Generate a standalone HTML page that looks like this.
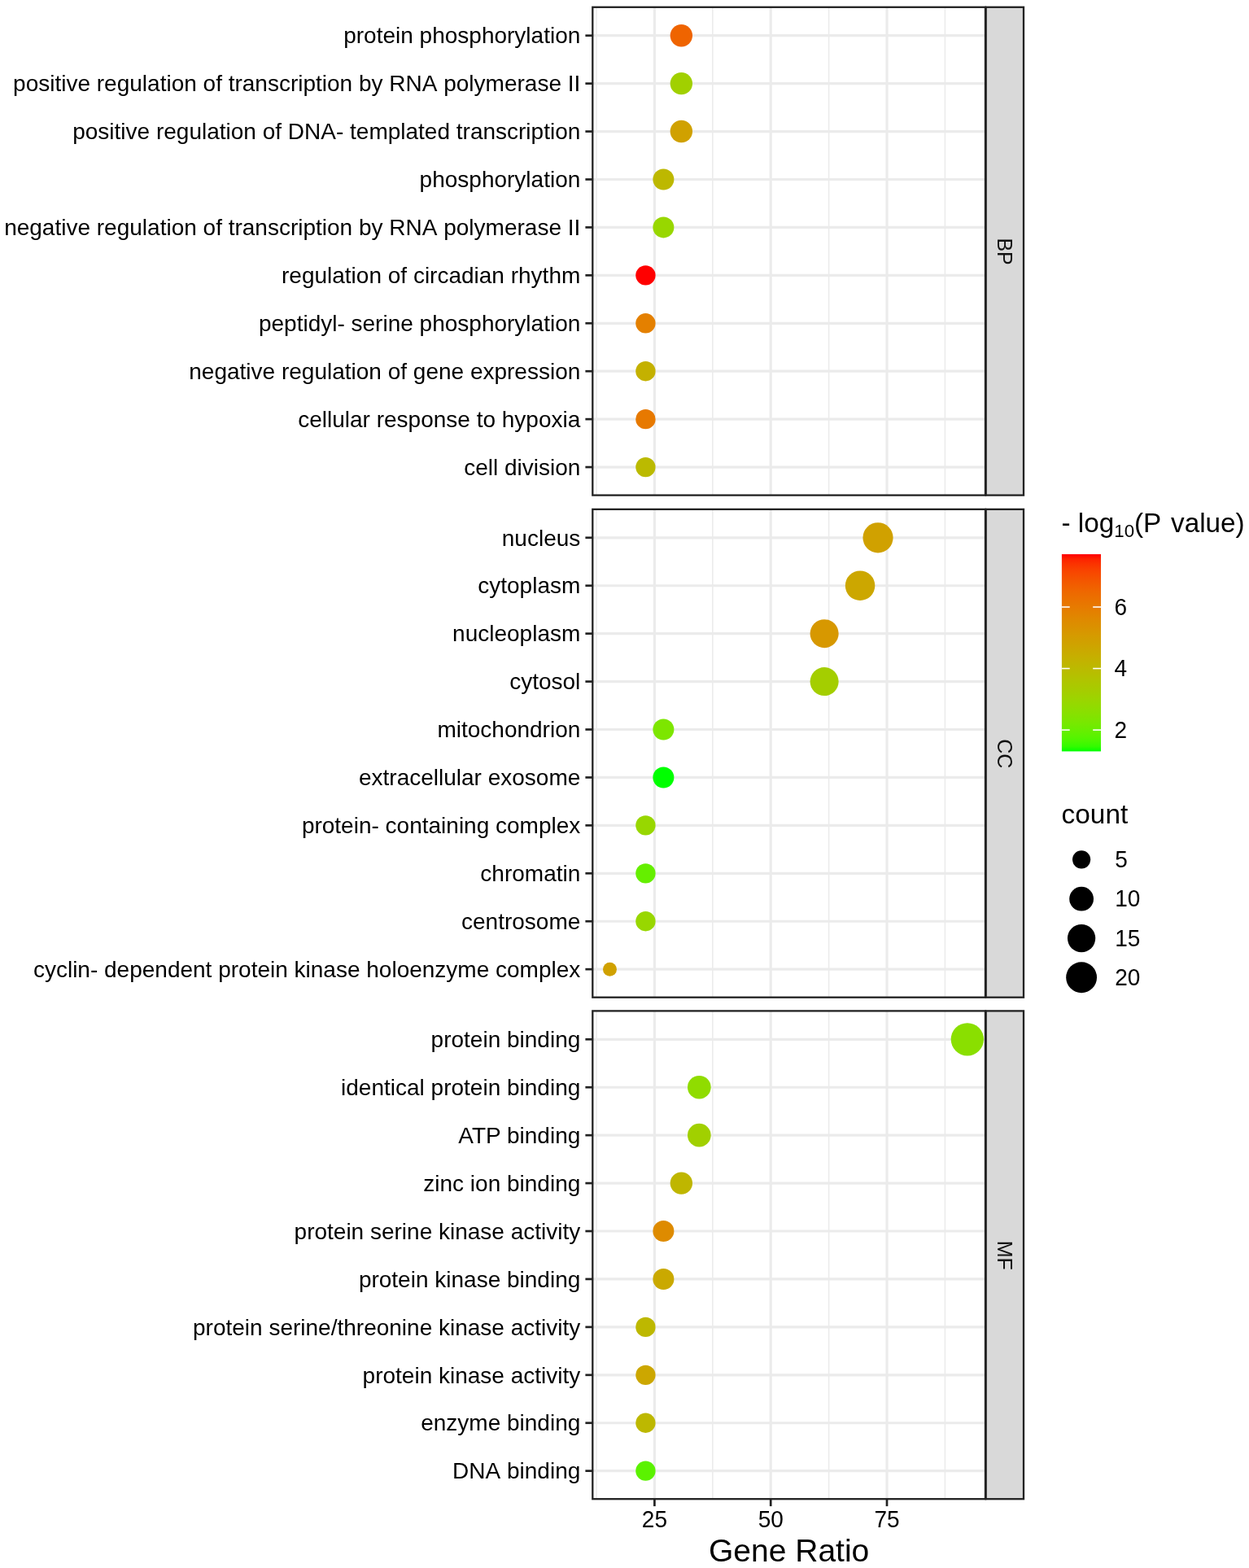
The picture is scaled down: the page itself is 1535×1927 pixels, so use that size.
<!DOCTYPE html>
<html><head><meta charset="utf-8"><title>GO enrichment dot plot</title>
<style>html,body{margin:0;padding:0;background:#fff;}svg{display:block;font-family:"Liberation Sans",Arial,sans-serif;font-kerning:none;}</style>
</head><body>
<svg width="1535" height="1927" viewBox="0 0 1535 1927">
<rect width="1535" height="1927" fill="#FFFFFF"/>
<line x1="733.00" y1="8.80" x2="733.00" y2="608.60" stroke="#EBEBEB" stroke-width="1.6"/>
<line x1="875.80" y1="8.80" x2="875.80" y2="608.60" stroke="#EBEBEB" stroke-width="1.6"/>
<line x1="1018.60" y1="8.80" x2="1018.60" y2="608.60" stroke="#EBEBEB" stroke-width="1.6"/>
<line x1="1161.40" y1="8.80" x2="1161.40" y2="608.60" stroke="#EBEBEB" stroke-width="1.6"/>
<line x1="728.30" y1="43.70" x2="1211.00" y2="43.70" stroke="#EBEBEB" stroke-width="3.2"/>
<line x1="728.30" y1="102.63" x2="1211.00" y2="102.63" stroke="#EBEBEB" stroke-width="3.2"/>
<line x1="728.30" y1="161.56" x2="1211.00" y2="161.56" stroke="#EBEBEB" stroke-width="3.2"/>
<line x1="728.30" y1="220.49" x2="1211.00" y2="220.49" stroke="#EBEBEB" stroke-width="3.2"/>
<line x1="728.30" y1="279.42" x2="1211.00" y2="279.42" stroke="#EBEBEB" stroke-width="3.2"/>
<line x1="728.30" y1="338.35" x2="1211.00" y2="338.35" stroke="#EBEBEB" stroke-width="3.2"/>
<line x1="728.30" y1="397.28" x2="1211.00" y2="397.28" stroke="#EBEBEB" stroke-width="3.2"/>
<line x1="728.30" y1="456.21" x2="1211.00" y2="456.21" stroke="#EBEBEB" stroke-width="3.2"/>
<line x1="728.30" y1="515.14" x2="1211.00" y2="515.14" stroke="#EBEBEB" stroke-width="3.2"/>
<line x1="728.30" y1="574.07" x2="1211.00" y2="574.07" stroke="#EBEBEB" stroke-width="3.2"/>
<line x1="804.40" y1="8.80" x2="804.40" y2="608.60" stroke="#EBEBEB" stroke-width="3.2"/>
<line x1="947.20" y1="8.80" x2="947.20" y2="608.60" stroke="#EBEBEB" stroke-width="3.2"/>
<line x1="1090.00" y1="8.80" x2="1090.00" y2="608.60" stroke="#EBEBEB" stroke-width="3.2"/>
<circle cx="837.35" cy="43.70" r="13.70" fill="#EF6400"/>
<circle cx="837.35" cy="102.63" r="13.70" fill="#A1D000"/>
<circle cx="837.35" cy="161.56" r="13.70" fill="#D0A100"/>
<circle cx="815.38" cy="220.49" r="13.00" fill="#BDB800"/>
<circle cx="815.38" cy="279.42" r="13.00" fill="#98D700"/>
<circle cx="793.42" cy="338.35" r="12.17" fill="#FF0000"/>
<circle cx="793.42" cy="397.28" r="12.17" fill="#E48000"/>
<circle cx="793.42" cy="456.21" r="12.17" fill="#C4B100"/>
<circle cx="793.42" cy="515.14" r="12.17" fill="#E77900"/>
<circle cx="793.42" cy="574.07" r="12.17" fill="#BBBA00"/>
<rect x="728.30" y="8.80" width="482.70" height="599.80" fill="none" stroke="#222222" stroke-width="2.3"/>
<rect x="1211.70" y="8.80" width="46.30" height="599.80" fill="#D9D9D9" stroke="#222222" stroke-width="2.3"/>
<text transform="translate(1226.4 309.10) rotate(90)" text-anchor="middle" font-size="25" fill="#111">BP</text>
<line x1="719.40" y1="43.70" x2="728.30" y2="43.70" stroke="#222222" stroke-width="2.7"/>
<text x="713.3" y="53.40" text-anchor="end" font-size="28" fill="#000">protein phosphorylation</text>
<line x1="719.40" y1="102.63" x2="728.30" y2="102.63" stroke="#222222" stroke-width="2.7"/>
<text x="713.3" y="112.33" text-anchor="end" font-size="28" fill="#000">positive regulation of transcription by RNA polymerase II</text>
<line x1="719.40" y1="161.56" x2="728.30" y2="161.56" stroke="#222222" stroke-width="2.7"/>
<text x="713.3" y="171.26" text-anchor="end" font-size="28" fill="#000">positive regulation of DNA- templated transcription</text>
<line x1="719.40" y1="220.49" x2="728.30" y2="220.49" stroke="#222222" stroke-width="2.7"/>
<text x="713.3" y="230.19" text-anchor="end" font-size="28" fill="#000">phosphorylation</text>
<line x1="719.40" y1="279.42" x2="728.30" y2="279.42" stroke="#222222" stroke-width="2.7"/>
<text x="713.3" y="289.12" text-anchor="end" font-size="28" fill="#000">negative regulation of transcription by RNA polymerase II</text>
<line x1="719.40" y1="338.35" x2="728.30" y2="338.35" stroke="#222222" stroke-width="2.7"/>
<text x="713.3" y="348.05" text-anchor="end" font-size="28" fill="#000">regulation of circadian rhythm</text>
<line x1="719.40" y1="397.28" x2="728.30" y2="397.28" stroke="#222222" stroke-width="2.7"/>
<text x="713.3" y="406.98" text-anchor="end" font-size="28" fill="#000">peptidyl- serine phosphorylation</text>
<line x1="719.40" y1="456.21" x2="728.30" y2="456.21" stroke="#222222" stroke-width="2.7"/>
<text x="713.3" y="465.91" text-anchor="end" font-size="28" fill="#000">negative regulation of gene expression</text>
<line x1="719.40" y1="515.14" x2="728.30" y2="515.14" stroke="#222222" stroke-width="2.7"/>
<text x="713.3" y="524.84" text-anchor="end" font-size="28" fill="#000">cellular response to hypoxia</text>
<line x1="719.40" y1="574.07" x2="728.30" y2="574.07" stroke="#222222" stroke-width="2.7"/>
<text x="713.3" y="583.77" text-anchor="end" font-size="28" fill="#000">cell division</text>
<line x1="733.00" y1="625.90" x2="733.00" y2="1225.70" stroke="#EBEBEB" stroke-width="1.6"/>
<line x1="875.80" y1="625.90" x2="875.80" y2="1225.70" stroke="#EBEBEB" stroke-width="1.6"/>
<line x1="1018.60" y1="625.90" x2="1018.60" y2="1225.70" stroke="#EBEBEB" stroke-width="1.6"/>
<line x1="1161.40" y1="625.90" x2="1161.40" y2="1225.70" stroke="#EBEBEB" stroke-width="1.6"/>
<line x1="728.30" y1="660.80" x2="1211.00" y2="660.80" stroke="#EBEBEB" stroke-width="3.2"/>
<line x1="728.30" y1="719.73" x2="1211.00" y2="719.73" stroke="#EBEBEB" stroke-width="3.2"/>
<line x1="728.30" y1="778.66" x2="1211.00" y2="778.66" stroke="#EBEBEB" stroke-width="3.2"/>
<line x1="728.30" y1="837.59" x2="1211.00" y2="837.59" stroke="#EBEBEB" stroke-width="3.2"/>
<line x1="728.30" y1="896.52" x2="1211.00" y2="896.52" stroke="#EBEBEB" stroke-width="3.2"/>
<line x1="728.30" y1="955.45" x2="1211.00" y2="955.45" stroke="#EBEBEB" stroke-width="3.2"/>
<line x1="728.30" y1="1014.38" x2="1211.00" y2="1014.38" stroke="#EBEBEB" stroke-width="3.2"/>
<line x1="728.30" y1="1073.31" x2="1211.00" y2="1073.31" stroke="#EBEBEB" stroke-width="3.2"/>
<line x1="728.30" y1="1132.24" x2="1211.00" y2="1132.24" stroke="#EBEBEB" stroke-width="3.2"/>
<line x1="728.30" y1="1191.17" x2="1211.00" y2="1191.17" stroke="#EBEBEB" stroke-width="3.2"/>
<line x1="804.40" y1="625.90" x2="804.40" y2="1225.70" stroke="#EBEBEB" stroke-width="3.2"/>
<line x1="947.20" y1="625.90" x2="947.20" y2="1225.70" stroke="#EBEBEB" stroke-width="3.2"/>
<line x1="1090.00" y1="625.90" x2="1090.00" y2="1225.70" stroke="#EBEBEB" stroke-width="3.2"/>
<circle cx="1079.02" cy="660.80" r="18.60" fill="#D0A100"/>
<circle cx="1057.05" cy="719.73" r="18.26" fill="#CCA700"/>
<circle cx="1013.11" cy="778.66" r="17.53" fill="#D79800"/>
<circle cx="1013.11" cy="837.59" r="17.53" fill="#A4CE00"/>
<circle cx="815.38" cy="896.52" r="13.00" fill="#7DE600"/>
<circle cx="815.38" cy="955.45" r="13.00" fill="#00FF00"/>
<circle cx="793.42" cy="1014.38" r="12.17" fill="#98D700"/>
<circle cx="793.42" cy="1073.31" r="12.17" fill="#65EF00"/>
<circle cx="793.42" cy="1132.24" r="12.17" fill="#98D700"/>
<circle cx="749.48" cy="1191.17" r="8.47" fill="#D0A100"/>
<rect x="728.30" y="625.90" width="482.70" height="599.80" fill="none" stroke="#222222" stroke-width="2.3"/>
<rect x="1211.70" y="625.90" width="46.30" height="599.80" fill="#D9D9D9" stroke="#222222" stroke-width="2.3"/>
<text transform="translate(1226.4 926.20) rotate(90)" text-anchor="middle" font-size="25" fill="#111">CC</text>
<line x1="719.40" y1="660.80" x2="728.30" y2="660.80" stroke="#222222" stroke-width="2.7"/>
<text x="713.3" y="670.50" text-anchor="end" font-size="28" fill="#000">nucleus</text>
<line x1="719.40" y1="719.73" x2="728.30" y2="719.73" stroke="#222222" stroke-width="2.7"/>
<text x="713.3" y="729.43" text-anchor="end" font-size="28" fill="#000">cytoplasm</text>
<line x1="719.40" y1="778.66" x2="728.30" y2="778.66" stroke="#222222" stroke-width="2.7"/>
<text x="713.3" y="788.36" text-anchor="end" font-size="28" fill="#000">nucleoplasm</text>
<line x1="719.40" y1="837.59" x2="728.30" y2="837.59" stroke="#222222" stroke-width="2.7"/>
<text x="713.3" y="847.29" text-anchor="end" font-size="28" fill="#000">cytosol</text>
<line x1="719.40" y1="896.52" x2="728.30" y2="896.52" stroke="#222222" stroke-width="2.7"/>
<text x="713.3" y="906.22" text-anchor="end" font-size="28" fill="#000">mitochondrion</text>
<line x1="719.40" y1="955.45" x2="728.30" y2="955.45" stroke="#222222" stroke-width="2.7"/>
<text x="713.3" y="965.15" text-anchor="end" font-size="28" fill="#000">extracellular exosome</text>
<line x1="719.40" y1="1014.38" x2="728.30" y2="1014.38" stroke="#222222" stroke-width="2.7"/>
<text x="713.3" y="1024.08" text-anchor="end" font-size="28" fill="#000">protein- containing complex</text>
<line x1="719.40" y1="1073.31" x2="728.30" y2="1073.31" stroke="#222222" stroke-width="2.7"/>
<text x="713.3" y="1083.01" text-anchor="end" font-size="28" fill="#000">chromatin</text>
<line x1="719.40" y1="1132.24" x2="728.30" y2="1132.24" stroke="#222222" stroke-width="2.7"/>
<text x="713.3" y="1141.94" text-anchor="end" font-size="28" fill="#000">centrosome</text>
<line x1="719.40" y1="1191.17" x2="728.30" y2="1191.17" stroke="#222222" stroke-width="2.7"/>
<text x="713.3" y="1200.87" text-anchor="end" font-size="28" fill="#000">cyclin- dependent protein kinase holoenzyme complex</text>
<line x1="733.00" y1="1242.40" x2="733.00" y2="1842.20" stroke="#EBEBEB" stroke-width="1.6"/>
<line x1="875.80" y1="1242.40" x2="875.80" y2="1842.20" stroke="#EBEBEB" stroke-width="1.6"/>
<line x1="1018.60" y1="1242.40" x2="1018.60" y2="1842.20" stroke="#EBEBEB" stroke-width="1.6"/>
<line x1="1161.40" y1="1242.40" x2="1161.40" y2="1842.20" stroke="#EBEBEB" stroke-width="1.6"/>
<line x1="728.30" y1="1277.30" x2="1211.00" y2="1277.30" stroke="#EBEBEB" stroke-width="3.2"/>
<line x1="728.30" y1="1336.23" x2="1211.00" y2="1336.23" stroke="#EBEBEB" stroke-width="3.2"/>
<line x1="728.30" y1="1395.16" x2="1211.00" y2="1395.16" stroke="#EBEBEB" stroke-width="3.2"/>
<line x1="728.30" y1="1454.09" x2="1211.00" y2="1454.09" stroke="#EBEBEB" stroke-width="3.2"/>
<line x1="728.30" y1="1513.02" x2="1211.00" y2="1513.02" stroke="#EBEBEB" stroke-width="3.2"/>
<line x1="728.30" y1="1571.95" x2="1211.00" y2="1571.95" stroke="#EBEBEB" stroke-width="3.2"/>
<line x1="728.30" y1="1630.88" x2="1211.00" y2="1630.88" stroke="#EBEBEB" stroke-width="3.2"/>
<line x1="728.30" y1="1689.81" x2="1211.00" y2="1689.81" stroke="#EBEBEB" stroke-width="3.2"/>
<line x1="728.30" y1="1748.74" x2="1211.00" y2="1748.74" stroke="#EBEBEB" stroke-width="3.2"/>
<line x1="728.30" y1="1807.67" x2="1211.00" y2="1807.67" stroke="#EBEBEB" stroke-width="3.2"/>
<line x1="804.40" y1="1242.40" x2="804.40" y2="1842.20" stroke="#EBEBEB" stroke-width="3.2"/>
<line x1="947.20" y1="1242.40" x2="947.20" y2="1842.20" stroke="#EBEBEB" stroke-width="3.2"/>
<line x1="1090.00" y1="1242.40" x2="1090.00" y2="1842.20" stroke="#EBEBEB" stroke-width="3.2"/>
<circle cx="1188.86" cy="1277.30" r="20.17" fill="#8ADF00"/>
<circle cx="859.32" cy="1336.23" r="14.32" fill="#90DC00"/>
<circle cx="859.32" cy="1395.16" r="14.32" fill="#A1D000"/>
<circle cx="837.35" cy="1454.09" r="13.70" fill="#BFB600"/>
<circle cx="815.38" cy="1513.02" r="13.00" fill="#DE8B00"/>
<circle cx="815.38" cy="1571.95" r="13.00" fill="#CAA900"/>
<circle cx="793.42" cy="1630.88" r="12.17" fill="#BDB800"/>
<circle cx="793.42" cy="1689.81" r="12.17" fill="#CCA700"/>
<circle cx="793.42" cy="1748.74" r="12.17" fill="#BDB800"/>
<circle cx="793.42" cy="1807.67" r="12.17" fill="#5BF200"/>
<rect x="728.30" y="1242.40" width="482.70" height="599.80" fill="none" stroke="#222222" stroke-width="2.3"/>
<rect x="1211.70" y="1242.40" width="46.30" height="599.80" fill="#D9D9D9" stroke="#222222" stroke-width="2.3"/>
<text transform="translate(1226.4 1542.70) rotate(90)" text-anchor="middle" font-size="25" fill="#111">MF</text>
<line x1="719.40" y1="1277.30" x2="728.30" y2="1277.30" stroke="#222222" stroke-width="2.7"/>
<text x="713.3" y="1287.00" text-anchor="end" font-size="28" fill="#000">protein binding</text>
<line x1="719.40" y1="1336.23" x2="728.30" y2="1336.23" stroke="#222222" stroke-width="2.7"/>
<text x="713.3" y="1345.93" text-anchor="end" font-size="28" fill="#000">identical protein binding</text>
<line x1="719.40" y1="1395.16" x2="728.30" y2="1395.16" stroke="#222222" stroke-width="2.7"/>
<text x="713.3" y="1404.86" text-anchor="end" font-size="28" fill="#000" style="font-kerning:normal">ATP binding</text>
<line x1="719.40" y1="1454.09" x2="728.30" y2="1454.09" stroke="#222222" stroke-width="2.7"/>
<text x="713.3" y="1463.79" text-anchor="end" font-size="28" fill="#000">zinc ion binding</text>
<line x1="719.40" y1="1513.02" x2="728.30" y2="1513.02" stroke="#222222" stroke-width="2.7"/>
<text x="713.3" y="1522.72" text-anchor="end" font-size="28" fill="#000">protein serine kinase activity</text>
<line x1="719.40" y1="1571.95" x2="728.30" y2="1571.95" stroke="#222222" stroke-width="2.7"/>
<text x="713.3" y="1581.65" text-anchor="end" font-size="28" fill="#000">protein kinase binding</text>
<line x1="719.40" y1="1630.88" x2="728.30" y2="1630.88" stroke="#222222" stroke-width="2.7"/>
<text x="713.3" y="1640.58" text-anchor="end" font-size="28" fill="#000">protein serine/threonine kinase activity</text>
<line x1="719.40" y1="1689.81" x2="728.30" y2="1689.81" stroke="#222222" stroke-width="2.7"/>
<text x="713.3" y="1699.51" text-anchor="end" font-size="28" fill="#000">protein kinase activity</text>
<line x1="719.40" y1="1748.74" x2="728.30" y2="1748.74" stroke="#222222" stroke-width="2.7"/>
<text x="713.3" y="1758.44" text-anchor="end" font-size="28" fill="#000">enzyme binding</text>
<line x1="719.40" y1="1807.67" x2="728.30" y2="1807.67" stroke="#222222" stroke-width="2.7"/>
<text x="713.3" y="1817.37" text-anchor="end" font-size="28" fill="#000">DNA binding</text>
<line x1="804.40" y1="1842.20" x2="804.40" y2="1851.10" stroke="#222222" stroke-width="2.7"/>
<text transform="translate(804.40 1876.5) scale(1 1.03)" text-anchor="middle" font-size="28" fill="#000">25</text>
<line x1="947.20" y1="1842.20" x2="947.20" y2="1851.10" stroke="#222222" stroke-width="2.7"/>
<text transform="translate(947.20 1876.5) scale(1 1.03)" text-anchor="middle" font-size="28" fill="#000">50</text>
<line x1="1090.00" y1="1842.20" x2="1090.00" y2="1851.10" stroke="#222222" stroke-width="2.7"/>
<text transform="translate(1090.00 1876.5) scale(1 1.03)" text-anchor="middle" font-size="28" fill="#000">75</text>
<text x="969.65" y="1918.5" text-anchor="middle" font-size="39" fill="#000">Gene Ratio</text>
<defs><linearGradient id="cb" x1="0" y1="1" x2="0" y2="0">
<stop offset="0.0000" stop-color="#00FF00"/>
<stop offset="0.0250" stop-color="#33FB00"/>
<stop offset="0.0500" stop-color="#49F700"/>
<stop offset="0.0750" stop-color="#59F300"/>
<stop offset="0.1000" stop-color="#65EF00"/>
<stop offset="0.1250" stop-color="#70EB00"/>
<stop offset="0.1500" stop-color="#7AE700"/>
<stop offset="0.1750" stop-color="#82E300"/>
<stop offset="0.2000" stop-color="#8ADF00"/>
<stop offset="0.2250" stop-color="#91DB00"/>
<stop offset="0.2500" stop-color="#98D700"/>
<stop offset="0.2750" stop-color="#9ED300"/>
<stop offset="0.3000" stop-color="#A4CE00"/>
<stop offset="0.3250" stop-color="#A9CA00"/>
<stop offset="0.3500" stop-color="#AEC600"/>
<stop offset="0.3750" stop-color="#B3C200"/>
<stop offset="0.4000" stop-color="#B8BD00"/>
<stop offset="0.4250" stop-color="#BCB900"/>
<stop offset="0.4500" stop-color="#C1B400"/>
<stop offset="0.4750" stop-color="#C5B000"/>
<stop offset="0.5000" stop-color="#C9AB00"/>
<stop offset="0.5250" stop-color="#CCA600"/>
<stop offset="0.5500" stop-color="#D0A100"/>
<stop offset="0.5750" stop-color="#D39D00"/>
<stop offset="0.6000" stop-color="#D79800"/>
<stop offset="0.6250" stop-color="#DA9200"/>
<stop offset="0.6500" stop-color="#DD8D00"/>
<stop offset="0.6750" stop-color="#E08800"/>
<stop offset="0.7000" stop-color="#E38200"/>
<stop offset="0.7250" stop-color="#E67C00"/>
<stop offset="0.7500" stop-color="#E87600"/>
<stop offset="0.7750" stop-color="#EB7000"/>
<stop offset="0.8000" stop-color="#ED6A00"/>
<stop offset="0.8250" stop-color="#F06300"/>
<stop offset="0.8500" stop-color="#F25B00"/>
<stop offset="0.8750" stop-color="#F45300"/>
<stop offset="0.9000" stop-color="#F74A00"/>
<stop offset="0.9250" stop-color="#F94000"/>
<stop offset="0.9500" stop-color="#FB3300"/>
<stop offset="0.9750" stop-color="#FD2300"/>
<stop offset="1.0000" stop-color="#FF0000"/>
</linearGradient></defs>
<text y="653.6" font-size="33.3" fill="#000"><tspan x="1304.4">- log</tspan><tspan x="1369.3" font-size="22.3" dy="6.2">10</tspan><tspan x="1393.9" dy="-6.2">(P</tspan><tspan x="1439.0">value)</tspan></text>
<rect x="1304.9" y="681.1" width="48.1" height="242.3" fill="url(#cb)"/>
<line x1="1304.9" y1="897.12" x2="1314.70" y2="897.12" stroke="#FFFFFF" stroke-width="1.6"/>
<line x1="1343.20" y1="897.12" x2="1353.00" y2="897.12" stroke="#FFFFFF" stroke-width="1.6"/>
<text transform="translate(1369.6 906.62) scale(1 1.03)" font-size="28" fill="#000">2</text>
<line x1="1304.9" y1="821.56" x2="1314.70" y2="821.56" stroke="#FFFFFF" stroke-width="1.6"/>
<line x1="1343.20" y1="821.56" x2="1353.00" y2="821.56" stroke="#FFFFFF" stroke-width="1.6"/>
<text transform="translate(1369.6 831.06) scale(1 1.03)" font-size="28" fill="#000">4</text>
<line x1="1304.9" y1="746.00" x2="1314.70" y2="746.00" stroke="#FFFFFF" stroke-width="1.6"/>
<line x1="1343.20" y1="746.00" x2="1353.00" y2="746.00" stroke="#FFFFFF" stroke-width="1.6"/>
<text transform="translate(1369.6 755.50) scale(1 1.03)" font-size="28" fill="#000">6</text>
<text x="1304.6" y="1011.8" font-size="33.4" fill="#000">count</text>
<circle cx="1329.1" cy="1056.3" r="11.09" fill="#000"/>
<text transform="translate(1370.2 1065.90) scale(1 1.03)" font-size="28" fill="#000">5</text>
<circle cx="1329.1" cy="1104.7" r="14.88" fill="#000"/>
<text transform="translate(1370.2 1114.30) scale(1 1.03)" font-size="28" fill="#000">10</text>
<circle cx="1329.1" cy="1153.1" r="17.15" fill="#000"/>
<text transform="translate(1370.2 1162.70) scale(1 1.03)" font-size="28" fill="#000">15</text>
<circle cx="1329.1" cy="1201.2" r="18.93" fill="#000"/>
<text transform="translate(1370.2 1210.80) scale(1 1.03)" font-size="28" fill="#000">20</text>
</svg>
</body></html>
